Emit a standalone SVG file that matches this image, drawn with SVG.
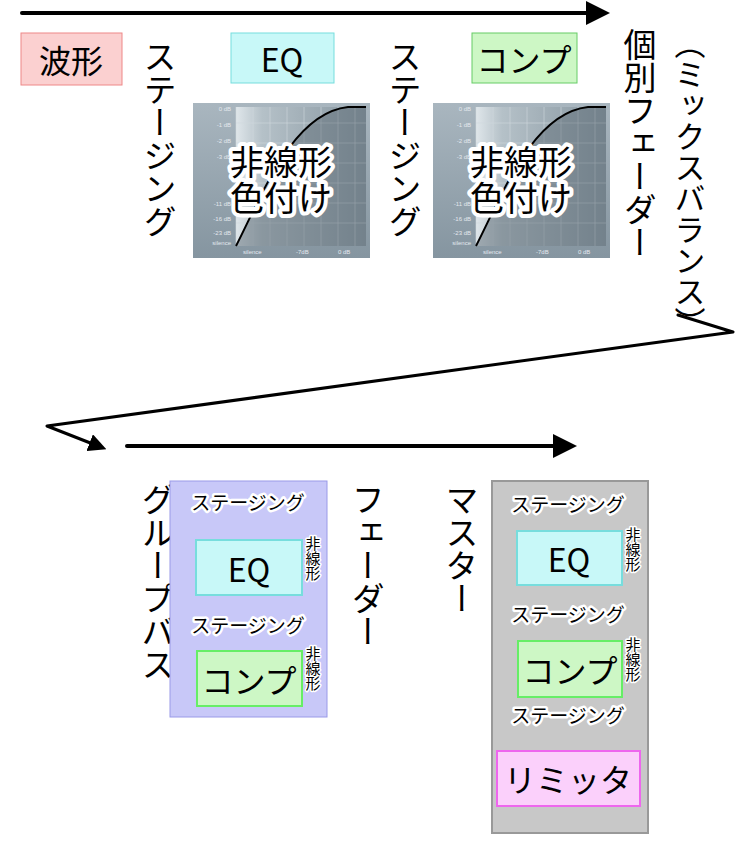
<svg xmlns="http://www.w3.org/2000/svg" width="735" height="843" viewBox="0 0 735 843">
<style>
text{font-family:"Noto Sans CJK JP","Noto Sans",sans-serif;fill:#000}
.big{font-size:34px}
.lbl{font-size:32px;text-anchor:middle;dominant-baseline:central}
.v{writing-mode:vertical-rl;font-size:33px}
.glow{stroke:#fff;stroke-width:6px;paint-order:stroke;stroke-linejoin:round}
.sm{font-size:19px;text-anchor:middle;stroke:#fff;stroke-width:5px;paint-order:stroke;stroke-linejoin:round}
.tiny{font-family:"Liberation Sans",sans-serif;font-size:6px;fill:#e4e8ee}
.line{stroke:#000;stroke-width:5;fill:none;stroke-linecap:round;stroke-linejoin:round}
</style>
<defs>
<marker id="ah" markerWidth="6" markerHeight="6" refX="3" refY="3" orient="auto" markerUnits="strokeWidth"><path d="M0,0L6,3L0,6z" fill="#000"/></marker>
<linearGradient id="pg" x1="0" y1="0" x2="0" y2="1"><stop offset="0" stop-color="#a9b6bf"/><stop offset="1" stop-color="#8595a0"/></linearGradient>
<linearGradient id="ag" x1="0" y1="0" x2="1" y2="0"><stop offset="0" stop-color="#dfe6ea"/><stop offset="0.2" stop-color="#b5c1c8"/><stop offset="1" stop-color="#8796a0"/></linearGradient>
<g id="curve">
<rect x="0" y="0" width="177" height="155" fill="url(#pg)"/>
<rect x="43" y="4" width="130" height="139" fill="url(#ag)"/>
<path d="M43,4V143M60,4V143M77,4V143M94,4V143M111,4V143M128,4V143M145,4V143M162,4V143M43,20H173M43,40H173M43,60H173M43,80H173M43,100H173M43,120H173" stroke="#d0d8de" stroke-width="0.6"/>
<path d="M43,143C70,90 100,10 155,4L173,4L173,143Z" fill="#5f6e78" opacity="0.5"/>
<path d="M43,143C70,90 100,10 155,4L173,4" stroke="#000" stroke-width="2" fill="none"/>
<text class="tiny" x="38" y="8" text-anchor="end">0 dB</text>
<text class="tiny" x="38" y="24" text-anchor="end">-1 dB</text>
<text class="tiny" x="38" y="40" text-anchor="end">-2 dB</text>
<text class="tiny" x="38" y="56" text-anchor="end">-3 dB</text>
<text class="tiny" x="38" y="103" text-anchor="end">-11 dB</text>
<text class="tiny" x="38" y="118" text-anchor="end">-16 dB</text>
<text class="tiny" x="38" y="132" text-anchor="end">-23 dB</text>
<text class="tiny" x="38" y="142" text-anchor="end">silence</text>
<text class="tiny" x="50" y="151">silence</text>
<text class="tiny" x="103" y="151">-7dB</text>
<text class="tiny" x="145" y="151">0 dB</text>
<text class="big glow" x="88" y="72" text-anchor="middle" style="stroke-width:8px">非線形</text>
<text class="big glow" x="88" y="108" text-anchor="middle" style="stroke-width:8px">色付け</text>
</g>
</defs>
<g id="connectors">
<path class="line" d="M22,13H598" marker-end="url(#ah)" style="stroke-width:4"/>
<path class="line" d="M678,315L733,332L47,426L98,446" marker-end="url(#ah)" style="stroke-width:3"/>
<path class="line" d="M127,446H565" marker-end="url(#ah)" style="stroke-width:4"/>
</g>
<g id="hakei"><rect x="21" y="33" width="101" height="52" fill="#fbd0d0" stroke="#e88"/><text class="lbl" x="71" y="59">波形</text></g>
<g id="eq-top"><rect x="231" y="33" width="103" height="50" fill="#c8f8f8" stroke="#7dd"/><text class="lbl" x="282" y="58">EQ</text></g>
<g id="comp-top"><rect x="472" y="33" width="105" height="50" fill="#cdf7c5" stroke="#6c6"/><text class="lbl" x="524" y="58">コンプ</text></g>
<g id="stage1"><text class="v" x="160" y="40">ステージング</text></g>
<g id="stage2"><text class="v" x="405" y="40">ステージング</text></g>
<g id="img1"><use href="#curve" x="193" y="103"/></g>
<g id="img2"><use href="#curve" x="433" y="103"/></g>
<g id="fader-ind"><text class="v" x="640" y="28">個別フェーダー</text></g>
<g id="mixbal"><text class="v" x="690" y="28" style="font-size:31px">（ミックスバランス）</text></g>
<g id="groupbus-label"><text class="v" x="158" y="483">グループバス</text></g>
<g id="groupbus">
<rect x="170" y="481" width="157" height="236" fill="#c8c8f8" stroke="#9a9ae8"/>
<text class="sm" x="248" y="510">ステージング</text>
<rect x="196" y="540" width="106" height="55" fill="#c8f8f8" stroke="#7dd" stroke-width="2"/>
<text class="lbl" x="249" y="568">EQ</text>
<text class="v glow" x="313" y="536" style="font-size:15px;stroke-width:3px">非線形</text>
<text class="sm" x="248" y="633">ステージング</text>
<rect x="197" y="651" width="105" height="55" fill="#cdf7c5" stroke="#6e6" stroke-width="2"/>
<text class="lbl" x="249" y="679">コンプ</text>
<text class="v glow" x="313" y="646" style="font-size:15px;stroke-width:3px">非線形</text>
</g>
<g id="fader-label"><text class="v" x="368" y="483">フェーダー</text></g>
<g id="master-label"><text class="v" x="462" y="483">マスター</text></g>
<g id="master">
<rect x="492" y="481" width="156" height="352" fill="#c8c8c8" stroke="#999" stroke-width="2"/>
<text class="sm" x="568" y="512">ステージング</text>
<rect x="517" y="531" width="105" height="54" fill="#c8f8f8" stroke="#7dd" stroke-width="2"/>
<text class="lbl" x="569" y="558">EQ</text>
<text class="v glow" x="633" y="527" style="font-size:15px;stroke-width:3px">非線形</text>
<text class="sm" x="568" y="622">ステージング</text>
<rect x="518" y="641" width="104" height="56" fill="#cdf7c5" stroke="#6e6" stroke-width="2"/>
<text class="lbl" x="570" y="669">コンプ</text>
<text class="v glow" x="633" y="637" style="font-size:15px;stroke-width:3px">非線形</text>
<text class="sm" x="568" y="723">ステージング</text>
<rect x="497" y="751" width="143" height="55" fill="#fbd0fb" stroke="#e6e" stroke-width="2"/>
<text class="lbl" x="568" y="778">リミッタ</text>
</g>
</svg>
